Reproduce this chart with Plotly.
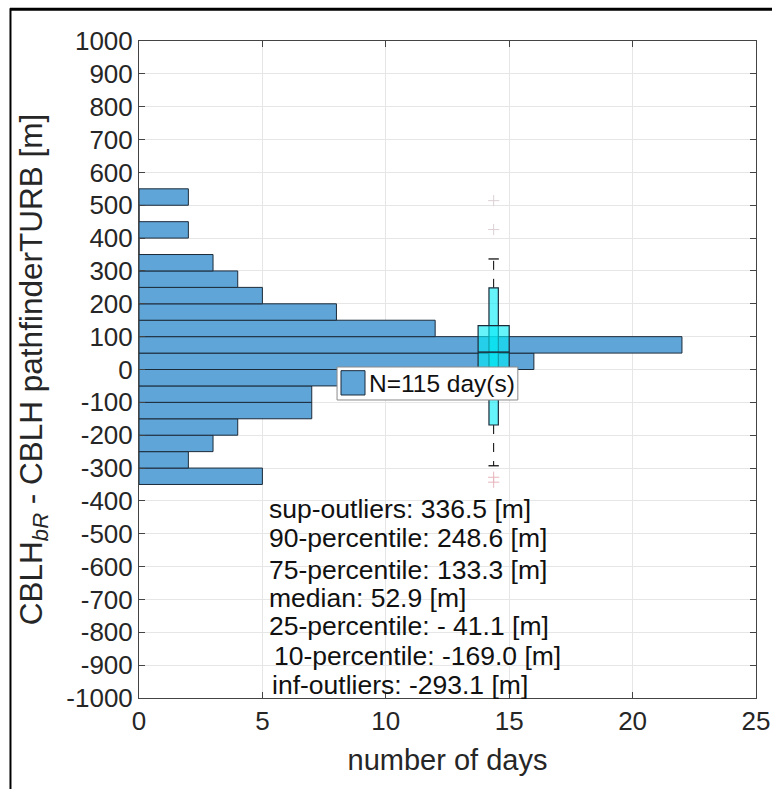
import plotly.graph_objects as go

# ---------------- data ----------------
bin_centers = [-325, -275, -225, -175, -125, -75, -25, 25, 75, 125, 175, 225, 275, 325, 375, 425, 475, 525]
counts = [5, 2, 3, 4, 7, 7, 13, 16, 22, 12, 8, 5, 4, 3, 0, 2, 0, 2]
bin_width = 50

box_x = 14.37
p10, p25, median, p75, p90 = -169.0, -41.1, 52.9, 133.3, 248.6
whisk_lo, whisk_hi = -293.1, 336.5
outliers = [514, 426, -328, -343]
outlier_colors = ["#ddd0d3", "#ddd0d3", "#e8b6bd", "#e8b6bd"]

stat_labels = [
    "sup-outliers: 336.5 [m]",
    "90-percentile: 248.6 [m]",
    "75-percentile: 133.3 [m]",
    "median: 52.9 [m]",
    "25-percentile: - 41.1 [m]",
    "10-percentile: -169.0 [m]",
    "inf-outliers: -293.1 [m]",
]
stat_label_x = [5.18, 5.18, 5.18, 5.18, 5.2, 5.39, 5.31]
stat_label_y = [-426, -514, -610, -697, -782, -872, -960]

legend_label = "N=115 day(s)"
x_tick_vals = [0, 5, 10, 15, 20, 25]
y_tick_vals = list(range(-1000, 1001, 100))
y_tick_text = [str(v) for v in y_tick_vals]

FONT = "Liberation Sans, Arial, sans-serif"
BAR_COLOR = "#5fa5d7"
EDGE = "#1c2b3a"
TXT = "#262626"

fig = go.Figure()

fig.add_trace(go.Bar(
    y=bin_centers, x=counts, orientation="h", width=bin_width,
    marker=dict(color=BAR_COLOR, line=dict(color=EDGE, width=1)),
    showlegend=False, hoverinfo="skip",
))

fig.add_trace(go.Scatter(
    x=[box_x] * len(outliers), y=outliers, mode="markers",
    marker=dict(symbol="cross-thin", size=8, line=dict(width=1, color=outlier_colors)),
    showlegend=False, hoverinfo="skip",
))

shapes = []
wn, ww, wc = 0.19, 0.63, 0.21
# whiskers
shapes.append(dict(type="line", xref="x", yref="y", x0=box_x, x1=box_x, y0=p90, y1=whisk_hi,
                   line=dict(color="black", width=1, dash="dash")))
shapes.append(dict(type="line", xref="x", yref="y", x0=box_x, x1=box_x, y0=p10, y1=whisk_lo,
                   line=dict(color="black", width=1, dash="dash")))
shapes.append(dict(type="line", xref="x", yref="y", x0=box_x - wc, x1=box_x + wc, y0=whisk_hi, y1=whisk_hi,
                   line=dict(color="black", width=1.2)))
shapes.append(dict(type="line", xref="x", yref="y", x0=box_x - wc, x1=box_x + wc, y0=whisk_lo, y1=whisk_lo,
                   line=dict(color="black", width=1.2)))
# narrow 10-90 box
shapes.append(dict(type="rect", xref="x", yref="y", x0=box_x - wn, x1=box_x + wn, y0=p10, y1=p90,
                   fillcolor="rgba(0,235,245,0.6)", line=dict(color=EDGE, width=1.2)))
# wide 25-75 box
shapes.append(dict(type="rect", xref="x", yref="y", x0=box_x - ww, x1=box_x + ww, y0=p25, y1=p75,
                   fillcolor="rgba(0,235,245,0.6)", line=dict(color=EDGE, width=1.2)))
shapes.append(dict(type="line", xref="x", yref="y", x0=box_x - ww, x1=box_x + ww, y0=median, y1=median,
                   line=dict(color=EDGE, width=1.5)))

# legend box (paper coords)
shapes.append(dict(type="rect", xref="paper", yref="paper", x0=0.321, x1=0.614, y0=0.4536, y1=0.5038,
                   fillcolor="white", line=dict(color="#8a8a8a", width=1)))
shapes.append(dict(type="rect", xref="paper", yref="paper", x0=0.3274, x1=0.3663, y0=0.4612, y1=0.4982,
                   fillcolor=BAR_COLOR, line=dict(color=EDGE, width=1)))

# outer frame lines
shapes.append(dict(type="line", xref="paper", yref="paper", x0=-0.2091, x1=1.06, y0=1.0482, y1=1.0482,
                   line=dict(color="black", width=3)))
shapes.append(dict(type="line", xref="paper", yref="paper", x0=-0.2083, x1=-0.2083, y0=1.05, y1=-0.14,
                   line=dict(color="black", width=2)))

annotations = []
for txt, xx, yy in zip(stat_labels, stat_label_x, stat_label_y):
    annotations.append(dict(x=xx, y=yy, xref="x", yref="y", text=txt, showarrow=False,
                            xanchor="left", yanchor="middle",
                            font=dict(family=FONT, size=26.5, color="#111111")))
annotations.append(dict(x=0.3695, y=0.4787, xref="paper", yref="paper", text=legend_label, showarrow=False,
                        xanchor="left", yanchor="middle",
                        font=dict(family=FONT, size=24.5, color="#111111")))

axis_common = dict(
    showline=True, linecolor="#444444", linewidth=1, mirror="ticks",
    ticks="inside", ticklen=6, tickcolor="#444444",
    showgrid=True, gridcolor="#e6e6e6", gridwidth=1, zeroline=False,
    automargin=False,
    tickfont=dict(family=FONT, size=26, color=TXT),
)

fig.update_layout(
    width=772, height=789,
    margin=dict(l=139, r=16, t=41, b=91),
    paper_bgcolor="white", plot_bgcolor="white",
    showlegend=False,
    shapes=shapes, annotations=annotations,
    xaxis=dict(range=[0, 25], tickvals=x_tick_vals,
               title=dict(text="number of days", font=dict(family=FONT, size=29, color=TXT), standoff=14),
               **axis_common),
    yaxis=dict(range=[-1000, 1000], tickvals=y_tick_vals, ticktext=y_tick_text,
               title=dict(text="CBLH<sub><i>bR</i></sub> - CBLH pathfinderTURB [m]",
                          font=dict(family=FONT, size=31.5, color=TXT), standoff=14),
               **axis_common),
)

fig.write_html("out.html")
